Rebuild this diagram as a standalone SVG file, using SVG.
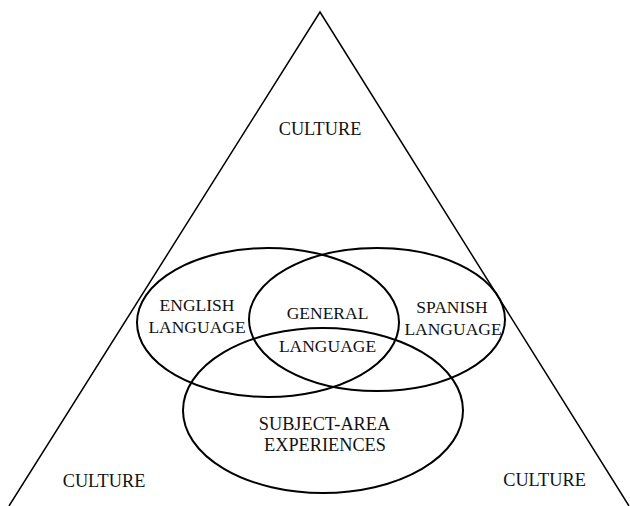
<svg xmlns="http://www.w3.org/2000/svg" width="630" height="506" viewBox="0 0 630 506">
<style>
.t{font-family:"Liberation Serif","Times New Roman",serif;font-size:17.5px;fill:#111;text-anchor:middle}
.big{font-size:18.3px}
.e{fill:none;stroke:#000;stroke-width:2}
.tri{fill:none;stroke:#000;stroke-width:1.5}
</style>
<rect width="630" height="506" fill="#fff"/>
<g id="triangle"><polyline class="tri" points="9,506 320,12 629,506"/></g>
<g id="culture-top"><text class="t big" x="320" y="135">CULTURE</text></g>
<g id="culture-left"><text class="t big" x="104" y="487">CULTURE</text></g>
<g id="culture-right"><text class="t big" x="544.5" y="486">CULTURE</text></g>
<g id="english"><ellipse class="e" cx="268" cy="322.5" rx="131" ry="74.5"/>
<text class="t" x="197" y="311">ENGLISH</text><text class="t" x="197" y="333">LANGUAGE</text></g>
<g id="spanish"><ellipse class="e" cx="377" cy="319.5" rx="128" ry="71.5"/>
<text class="t" x="452" y="313">SPANISH</text><text class="t" x="453" y="335">LANGUAGE</text></g>
<g id="general"><text class="t" x="327.5" y="319">GENERAL</text><text class="t" x="327.5" y="352">LANGUAGE</text></g>
<g id="subject"><ellipse class="e" cx="323" cy="410.5" rx="140" ry="82.5"/>
<text class="t big" x="324.5" y="430">SUBJECT-AREA</text><text class="t big" x="325" y="451">EXPERIENCES</text></g>
</svg>
